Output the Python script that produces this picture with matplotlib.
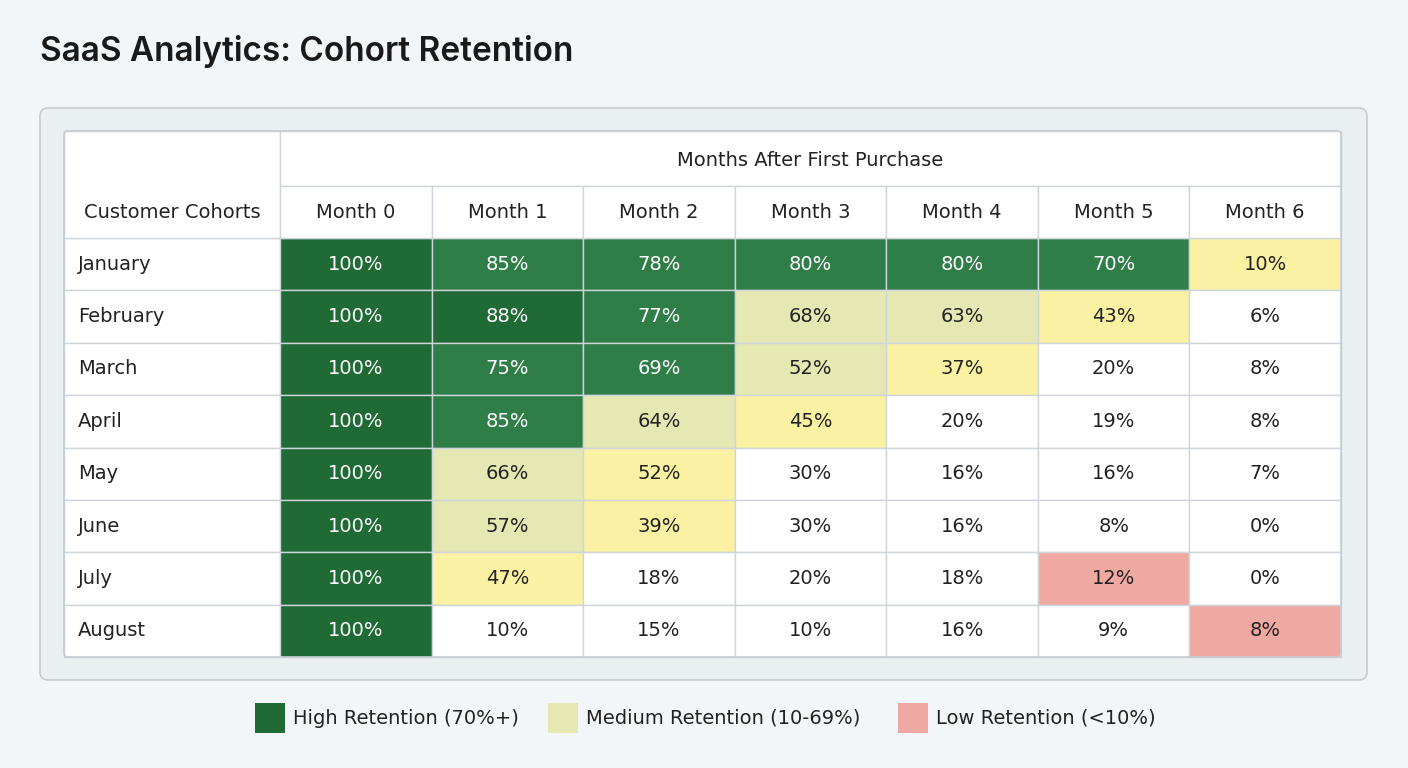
import matplotlib
matplotlib.use("Agg")
import matplotlib.pyplot as plt
from matplotlib.patches import Rectangle, FancyBboxPatch

cohorts = ["January","February","March","April","May","June","July","August"]
months = ["Month 0","Month 1","Month 2","Month 3","Month 4","Month 5","Month 6"]
values = [
    [100,85,78,80,80,70,10],
    [100,88,77,68,63,43,6],
    [100,75,69,52,37,20,8],
    [100,85,64,45,20,19,8],
    [100,66,52,30,16,16,7],
    [100,57,39,30,16,8,0],
    [100,47,18,20,18,12,0],
    [100,10,15,10,16,9,8],
]
classes = [
    "DGGGGGY",
    "DDGLLYW",
    "DGGLYWW",
    "DGLYWWW",
    "DLYWWWW",
    "DLYWWWW",
    "DYWWWRW",
    "DWWWWWR",
]
legend_labels = ["High Retention (70%+)", "Medium Retention (10-69%)", "Low Retention (<10%)"]

cmap = {"D":"#1f6a35","G":"#2f7d47","L":"#e5e8b2","Y":"#fbf1a3","W":"#ffffff","R":"#f0a9a2"}
tcol = {"D":"white","G":"white","L":"#222","Y":"#222","W":"#222","R":"#222"}

fig = plt.figure(figsize=(14.08,7.68), dpi=100)
fig.patch.set_facecolor("#f2f6f8")
ax = fig.add_axes([0,0,1,1])
ax.set_xlim(0,1408); ax.set_ylim(768,0); ax.axis("off")
ff = "DejaVu Sans"

ax.text(40,52,"SaaS Analytics: Cohort Retention",fontsize=24,fontweight="semibold",va="center",color="#1a1a1a",family=["Inter","DejaVu Sans"])
ax.add_patch(FancyBboxPatch((40,108),1327,572,boxstyle="round,pad=0,rounding_size=8",fc="#eaeff2",ec="#c5ccd2",lw=1.2))

L,R,T,B = 64,1341,131,657
c0 = 280
cw = (R-c0)/len(months)
h1, h2 = 186, 238
rh = (B-h2)/len(cohorts)
lc = "#cfd5da"
ax.add_patch(Rectangle((L,T),R-L,B-T,fc="white",ec="none"))
for i,row in enumerate(values):
    y = h2+i*rh
    ax.add_patch(Rectangle((L,y),c0-L,rh,fc="white",ec=lc,lw=1))
    ax.text(L+14,y+rh/2,cohorts[i],fontsize=14,va="center",color="#222",family=ff)
    for j,v in enumerate(row):
        c = classes[i][j]
        x = c0+j*cw
        ax.add_patch(Rectangle((x,y),cw,rh,fc=cmap[c],ec=lc,lw=1))
        ax.text(x+cw/2,y+rh/2,f"{v}%",fontsize=14,ha="center",va="center",color=tcol[c],family=ff)
ax.add_patch(Rectangle((L,T),c0-L,h2-T,fc="white",ec=lc,lw=1))
ax.text((L+c0)/2,(h1+h2)/2,"Customer Cohorts",fontsize=14,ha="center",va="center",color="#222",family=ff)
ax.add_patch(Rectangle((c0,T),R-c0,h1-T,fc="white",ec=lc,lw=1))
ax.text((c0+R)/2,(T+h1)/2+2,"Months After First Purchase",fontsize=14,ha="center",va="center",color="#222",family=ff)
for j,m in enumerate(months):
    x = c0+j*cw
    ax.add_patch(Rectangle((x,h1),cw,h2-h1,fc="white",ec=lc,lw=1))
    ax.text(x+cw/2,(h1+h2)/2,m,fontsize=14,ha="center",va="center",color="#222",family=ff)
ax.add_patch(FancyBboxPatch((L,T),R-L,B-T,boxstyle="round,pad=0,rounding_size=4",fc="none",ec="#c5ccd2",lw=1.2))

lx = [255,548,898]
lcols = [cmap["D"],cmap["L"],cmap["R"]]
for x,c,t in zip(lx,lcols,legend_labels):
    ax.add_patch(Rectangle((x,703),30,30,fc=c,ec="none"))
    ax.text(x+38,718,t,fontsize=14,va="center",color="#222",family=ff)

fig.savefig("out.png",dpi=100,facecolor=fig.get_facecolor())
